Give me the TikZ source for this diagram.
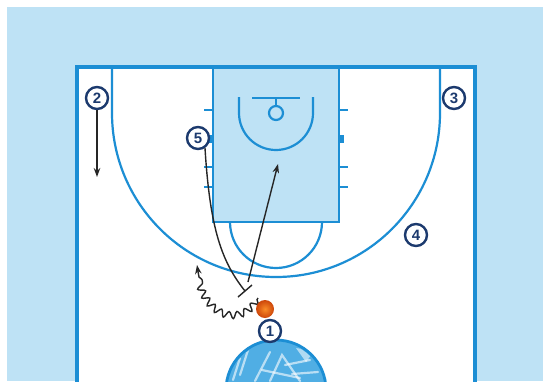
\documentclass[tikz,border=0pt]{standalone}
\usepackage{fontspec}
\setsansfont{Liberation Sans}
\usetikzlibrary{decorations.pathmorphing,arrows.meta}
\definecolor{bgblue}{RGB}{190,226,245}
\definecolor{lineblue}{RGB}{28,142,212}
\definecolor{navy}{RGB}{28,58,110}
\definecolor{logoblue}{RGB}{80,174,228}
\definecolor{ballin}{RGB}{250,140,40}
\definecolor{ballout}{RGB}{205,70,10}
\begin{document}
\begin{tikzpicture}[x=1pt,y=-1pt,
  court/.style={draw=lineblue,line width=2.2pt},
  player/.style={circle,draw=navy,fill=white,line width=2.4pt,minimum size=22pt,inner sep=0pt,
    font=\fontsize{15}{15}\selectfont\sffamily\bfseries,text=navy},
  move/.style={draw=black!85,line width=1.4pt,-{Stealth[length=9pt,width=6.5pt]}},
  plain/.style={draw=black!85,line width=1.4pt},
  streak/.style={draw=white,opacity=.6,line width=2.2pt,line cap=round}]
\useasboundingbox (0,0) rectangle (543,381);
\clip (0,0) rectangle (543,381);
\fill[white] (0,0) rectangle (543,381);
\fill[bgblue] (7,7) rectangle (543,381);
% court
\fill[white] (77,67) rectangle (475,420);
\draw[court,fill=bgblue] (213,67) rectangle (339,222);
\draw[court] (112,67) -- (112,113) arc[start angle=180,end angle=0,radius=164] -- (440,67);
\draw[court] (322,222) arc[start angle=0,end angle=180,radius=46];
\draw[court] (239,97) -- (239,113) arc[start angle=180,end angle=0,radius=37] -- (313,97);
\draw[court] (252,98) -- (300,98);
\draw[court] (276,98) -- (276,106);
\draw[court] (276,113) circle[radius=7];
\foreach \yy in {110,167,187}{
  \draw[court] (204,\yy) -- (213,\yy);
  \draw[court] (339,\yy) -- (348,\yy);
}
\fill[lineblue] (208,135) rectangle (213,143);
\fill[lineblue] (339,135) rectangle (344,143);
\draw[lineblue,line width=3.6pt] (77,420) -- (77,67) -- (475,67) -- (475,420);
% logo circle
\draw[lineblue,line width=2.8pt,fill=logoblue] (276,390) circle[radius=50];
\begin{scope}
  \clip (276,390) circle[radius=48];
  \draw[streak] (240,375) -- (248,350);
  \draw[streak] (233,380) -- (240,358);
  \draw[streak] (255,381) -- (270,352);
  \draw[streak] (270,381) -- (282,355) -- (300,381);
  \draw[streak] (285,365) -- (310,360);
  \draw[streak] (292,374) -- (318,372);
  \draw[streak] (262,370) -- (300,378);
  \fill[white,opacity=.55] (296,348) -- (314,351) -- (306,362) -- cycle;
\end{scope}
% players
\node[player] (p2) at (97,98) {2};
\node[player] (p3) at (454,98) {3};
\node[player] (p4) at (416,235) {4};
\node[player] (p1) at (270,331) {1};
% moves
\coordinate (p2end) at (97,177);
\draw[move] (p2.south) -- (p2end);
\coordinate (scr) at (245,291);
\coordinate (barA) at (238,297);
\coordinate (barB) at (252,285);
\coordinate (rollstart) at (248,282);
\coordinate (rollend) at (278,164);
\coordinate (dstart) at (258,298);
\coordinate (dend) at (197,265);
\draw[move,decorate,decoration={snake,amplitude=3.4pt,segment length=9pt,pre length=2pt,post length=9pt}]
  (dstart) .. controls (243,325) and (203,318) .. (dend);
\draw[move] (rollstart) -- (rollend);
\node[player] (p5) at (198,138) {5};
\draw[plain] (p5.-55) .. controls (210,230) and (222,262) .. (scr);
\draw[plain] (barA) -- (barB);
\node[circle,minimum size=18pt,inner sep=0pt,shading=radial,inner color=ballin,outer color=ballout] (ball) at (265,309) {};
\end{tikzpicture}
\end{document}
